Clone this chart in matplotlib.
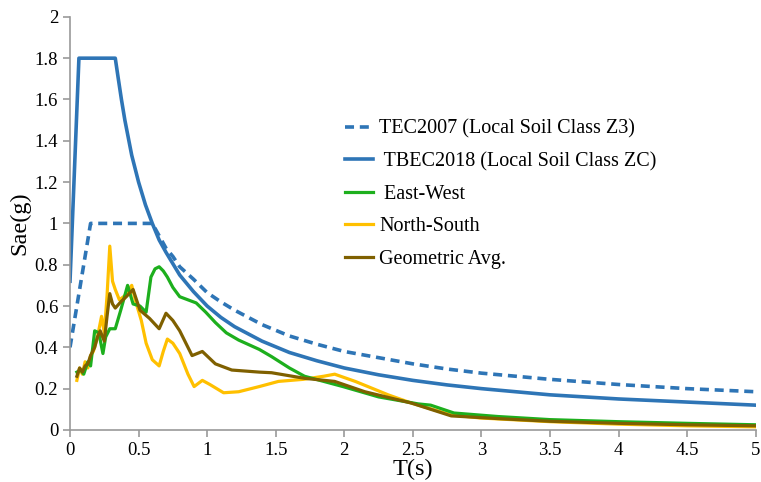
import matplotlib.pyplot as plt

plt.rcParams['font.family'] = ['Liberation Serif', 'DejaVu Serif']

# Design spectra (period in s, spectral acceleration in g)
t_tec2007 = [0, 0.15, 0.6, 0.65, 0.7, 0.75, 0.8, 0.9, 1.0, 1.1, 1.2, 1.4, 1.6, 1.8, 2.0, 2.25, 2.5, 2.75,
             3.0, 3.5, 4.0, 4.5, 5.0]
s_tec2007 = [0.40, 1.00, 1.00, 0.94, 0.88, 0.84, 0.79, 0.73, 0.665, 0.62, 0.58, 0.51, 0.455, 0.415, 0.38,
             0.35, 0.32, 0.295, 0.275, 0.245, 0.22, 0.20, 0.185]

t_tbec2018 = [0, 0.065, 0.33, 0.35, 0.375, 0.4, 0.45, 0.5, 0.55, 0.6, 0.65, 0.7, 0.8, 0.9, 1.0, 1.1, 1.2,
              1.4, 1.6, 1.8, 2.0, 2.25, 2.5, 2.75, 3.0, 3.5, 4.0, 4.5, 5.0]
s_tbec2018 = [0.72, 1.80, 1.80, 1.71, 1.60, 1.50, 1.33, 1.20, 1.09, 1.00, 0.92, 0.86, 0.75, 0.67, 0.60,
              0.545, 0.50, 0.43, 0.375, 0.335, 0.30, 0.267, 0.24, 0.218, 0.20, 0.17, 0.15, 0.135, 0.12]

# Recorded components
t_ew = [0.05, 0.08, 0.10, 0.13, 0.15, 0.18, 0.21, 0.24, 0.26, 0.29, 0.33, 0.37, 0.42, 0.46, 0.51, 0.555,
        0.59, 0.62, 0.65, 0.68, 0.71, 0.75, 0.80, 0.86, 0.92, 0.99, 1.06, 1.14, 1.23, 1.38, 1.47, 1.6, 1.71,
        1.85, 1.99, 2.25, 2.54, 2.63, 2.80, 3.12, 3.5, 4.0, 4.5, 5.0]
s_ew = [0.28, 0.29, 0.27, 0.33, 0.31, 0.48, 0.47, 0.37, 0.45, 0.49, 0.49, 0.58, 0.70, 0.61, 0.60, 0.57,
        0.74, 0.78, 0.79, 0.77, 0.74, 0.69, 0.645, 0.63, 0.615, 0.57, 0.52, 0.47, 0.435, 0.39, 0.355, 0.30, 0.26,
        0.235, 0.21, 0.16, 0.126, 0.12, 0.082, 0.065, 0.05, 0.04, 0.032, 0.025]

t_ns = [0.05, 0.07, 0.09, 0.11, 0.13, 0.15, 0.17, 0.20, 0.23, 0.25, 0.27, 0.29, 0.31, 0.33, 0.36, 0.40,
        0.45, 0.48, 0.52, 0.555, 0.60, 0.65, 0.68, 0.71, 0.75, 0.80, 0.86, 0.905, 0.965, 1.02, 1.12, 1.23,
        1.38, 1.52, 1.70, 1.85, 1.93, 2.08, 2.32, 2.49, 2.78, 2.99, 3.5, 4.0, 4.5, 5.0]
s_ns = [0.24, 0.30, 0.27, 0.33, 0.30, 0.36, 0.38, 0.45, 0.55, 0.47, 0.65, 0.89, 0.72, 0.68, 0.63, 0.65,
        0.70, 0.62, 0.53, 0.42, 0.34, 0.31, 0.38, 0.44, 0.42, 0.37, 0.27, 0.21, 0.24, 0.22, 0.18, 0.185,
        0.21, 0.235, 0.245, 0.26, 0.27, 0.235, 0.17, 0.13, 0.073, 0.058, 0.04, 0.028, 0.02, 0.015]

t_avg = [0.05, 0.07, 0.09, 0.11, 0.13, 0.15, 0.18, 0.20, 0.22, 0.25, 0.27, 0.29, 0.31, 0.33, 0.37, 0.41,
         0.46, 0.51, 0.58, 0.65, 0.70, 0.75, 0.80, 0.89, 0.965, 1.06, 1.18, 1.38, 1.47, 1.71, 1.93, 2.15,
         2.49, 2.78, 3.12, 3.5, 4.0, 4.5, 5.0]
s_avg = [0.26, 0.30, 0.28, 0.31, 0.32, 0.36, 0.40, 0.45, 0.48, 0.43, 0.55, 0.66, 0.61, 0.59, 0.62, 0.645,
         0.68, 0.58, 0.54, 0.49, 0.565, 0.53, 0.48, 0.36, 0.38, 0.32, 0.29, 0.28, 0.277, 0.25, 0.235, 0.185,
         0.13, 0.068, 0.055, 0.042, 0.032, 0.025, 0.02]

blue = '#2E75B6'
green = '#1DAF1D'
yellow = '#FFC000'
brown = '#7F6000'

fig = plt.figure(figsize=(7.61, 4.82), dpi=100)
ax = fig.add_axes([0.092, 0.108, 0.901, 0.857])

ax.plot(t_tec2007, s_tec2007, color=blue, lw=2.6, dashes=(2.5, 1.6), label='TEC2007 (Local Soil Class Z3)')
ax.plot(t_tbec2018, s_tbec2018, color=blue, lw=2.6, label=' TBEC2018 (Local Soil Class ZC)')
ax.plot(t_ns, s_ns, color=yellow, lw=2.3, label='North-South', zorder=3)
ax.plot(t_ew, s_ew, color=green, lw=2.3, label=' East-West', zorder=4)
ax.plot(t_avg, s_avg, color=brown, lw=2.3, label='Geometric Avg.', zorder=5)

ax.set_xlim(0, 5)
ax.set_ylim(0, 2)
ax.set_xticks([0, 0.5, 1, 1.5, 2, 2.5, 3, 3.5, 4, 4.5, 5])
ax.set_xticklabels(['0', '0.5', '1', '1.5', '2', '2.5', '3', '3.5', '4', '4.5', '5'])
ax.set_yticks([0, 0.2, 0.4, 0.6, 0.8, 1, 1.2, 1.4, 1.6, 1.8, 2])
ax.set_yticklabels(['0', '0.2', '0.4', '0.6', '0.8', '1', '1.2', '1.4', '1.6', '1.8', '2'])

for side in ['top', 'right']:
    ax.spines[side].set_visible(False)
for side in ['left', 'bottom']:
    ax.spines[side].set_color('#999999')
    ax.spines[side].set_linewidth(1.2)
ax.tick_params(colors='#999999', labelcolor='black', labelsize=13.5, length=5, width=1.2)

ax.set_xlabel('T(s)', fontsize=17.5, labelpad=0)
ax.set_ylabel('Sae(g)', fontsize=17.5, labelpad=3)

handles, labels = ax.get_legend_handles_labels()
order = [0, 1, 3, 2, 4]
ax.legend([handles[i] for i in order], [labels[i] for i in order],
          loc='upper left', bbox_to_anchor=(0.375, 0.795), frameon=False,
          fontsize=14.5, handlelength=1.4, handletextpad=0.3, labelspacing=0.66)

fig.savefig('out.png', dpi=100)
